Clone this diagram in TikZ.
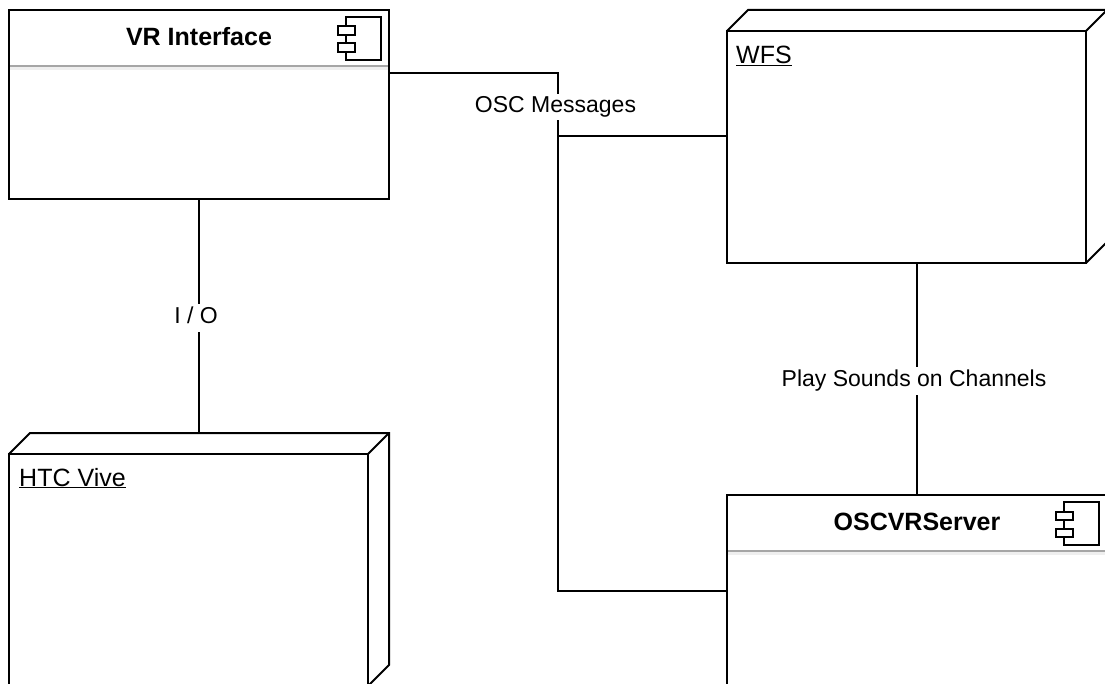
\documentclass[tikz,border=0pt]{standalone}
\usepackage{fontspec}
\setmainfont{Liberation Sans}
\usetikzlibrary{calc}
\definecolor{headgrey}{HTML}{A6A6A6}
\definecolor{headband}{HTML}{EFEFEF}

\begin{document}
\begin{tikzpicture}[
  x=1pt, y=-1pt,
  lin/.style={draw=black, line width=2pt},
  compbox/.style={rectangle, lin, fill=white, outer sep=0pt,
    minimum width=380pt, minimum height=189pt},
  depbox/.style={rectangle, outer sep=0pt,
    minimum width=380pt, minimum height=253pt},
  comptitle/.style={font=\fontsize{25}{29}\selectfont\bfseries},
  deptitle/.style={anchor=base west, inner sep=0pt, font=\fontsize{25}{29}\selectfont},
  edgelabel/.style={fill=white, inner xsep=1pt, inner ysep=3pt, font=\fontsize{23}{27}\selectfont},
  iconpart/.style={draw=black, line width=2pt, fill=white}
]
  \clip (0,0) rectangle (1105,684);
  \fill[white] (0,0) rectangle (1105,684);

  \node[compbox] (vr)  at (199, 104.5) {};
  \node[compbox, minimum height=191pt] (osc) at (917, 590.5) {};
  \node[depbox]  (wfs) at (917, 136.5) {};
  \node[depbox]  (htc) at (199, 559.5) {};

  \node[comptitle] (vrtitle)  at (199,  36.5) {VR Interface};
  \node[comptitle] (osctitle) at (917, 521.5) {OSCVRServer};
  \node[deptitle]  (wfstitle) at (736, 64) {\underline{WFS}};
  \node[deptitle]  (htctitle) at (19, 486) {\underline{HTC Vive}};

  % header and icon of the components
  \foreach \c in {vr,osc}{
    \fill[headband] ($(\c.north west)+(1,57)$) rectangle ($(\c.north east)+(-1,60)$);
    \draw[headgrey, line width=2pt] ($(\c.north west)+(1,56)$) -- ($(\c.north east)+(-1,56)$);
    \draw[iconpart] ($(\c.north east)+(-43,7)$) rectangle ($(\c.north east)+(-8,50)$);
    \draw[iconpart] ($(\c.north east)+(-51,16.5)$) rectangle ($(\c.north east)+(-34,25)$);
    \draw[iconpart] ($(\c.north east)+(-51,33.5)$) rectangle ($(\c.north east)+(-34,42)$);
  }

  % box faces of the deployment nodes
  \foreach \d in {wfs,htc}{
    \draw[lin] ($(\d.north west)+(0,21)$) rectangle ($(\d.south east)+(-21,0)$);
    \draw[lin, line join=miter] ($(\d.north west)+(0,21)$) -- ($(\d.north west)+(21,0)$)
      -- (\d.north east) -- ($(\d.south east)+(0,-21)$) -- ($(\d.south east)+(-21,0)$);
    \draw[lin] ($(\d.north east)+(-21,21)$) -- (\d.north east);
  }

  \coordinate (vrport) at ($(vr.north east)!1/3!(vr.south east)$);
  \coordinate (oscbus) at (558, 136.5);

  \draw[lin] (vrport) -| (oscbus) |- (osc.west);
  \draw[lin] (oscbus) -- (wfs.west);
  \draw[lin] (vr.south) -- (htc.north);
  \draw[lin] (wfs.south) -- (osc.north);

  \node[edgelabel] (osclabel)  at (555.5, 107) {OSC Messages};
  \node[edgelabel, text depth=5pt] (iolabel) at (196, 318) {I / O};
  \node[edgelabel] (playlabel) at (914, 381) {Play Sounds on Channels};
\end{tikzpicture}
\end{document}
